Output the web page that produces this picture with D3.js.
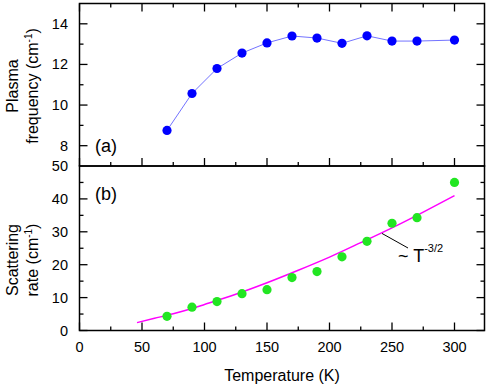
<!DOCTYPE html>
<html>
<head>
<meta charset="utf-8">
<script src="https://cdn.jsdelivr.net/npm/d3@7"></script>
<style>
  body { margin: 0; background: #fff; }
  svg { font-family: "Liberation Sans", Arial, sans-serif; }
</style>
</head>
<body>
<div id="chart"></div>
<script>
// Temperatures (K) of the measured points
var temps = [70, 90, 110, 130, 150, 170, 190, 210, 230, 250, 270, 300];
// (a) plasma frequency, cm^-1
var plasma = [8.75, 10.57, 11.8, 12.56, 13.06, 13.4, 13.3, 13.04, 13.41, 13.15, 13.15, 13.2];
// (b) scattering rate, cm^-1
var scatter = [4.3, 7.1, 8.8, 11.2, 12.4, 16.1, 17.9, 22.4, 27.1, 32.6, 34.3, 45.0];
// T^(3/2) guide curve
var fitT = [46, 60, 75, 90, 100, 125, 150, 175, 200, 225, 250, 275, 300];
var fitRate = [2.4, 3.7, 5.1, 6.7, 7.9, 11.0, 14.5, 18.3, 22.3, 26.7, 31.2, 36.0, 41.0];
// tick labels
var xTicks = [0, 50, 100, 150, 200, 250, 300];
var yTicksA = [8, 10, 12, 14];
var yTicksB = [0, 10, 20, 30, 40, 50];

var W = 491, H = 386;
var pL = 79.5, pR = 484.5, pT = 3.5, pM = 166, pB = 330.5;

var svg = d3.select("#chart").append("svg")
    .attr("width", W).attr("height", H);

var x = d3.scaleLinear().domain([0, 324]).range([pL, pR]);
var yA = d3.scaleLinear().domain([7, 15]).range([pM, pT]);
var yB = d3.scaleLinear().domain([0, 50]).range([pB, pM]);

var xMinor = d3.range(25, 325, 50);

function drawFrame(y0, y1) {
    svg.append("rect")
        .attr("x", pL).attr("y", y0)
        .attr("width", pR - pL).attr("height", y1 - y0)
        .attr("fill", "none").attr("stroke", "#000").attr("stroke-width", 1.5);
}

// inward tick marks on all four sides of a panel
function drawTicks(y, majors, minors, topTicks, bottomTicks) {
    var g = svg.append("g").attr("stroke", "#000").attr("stroke-width", 1.3);
    majors.forEach(function(v) {
        g.append("line").attr("x1", pL).attr("x2", pL + 8).attr("y1", y(v)).attr("y2", y(v));
        g.append("line").attr("x1", pR).attr("x2", pR - 8).attr("y1", y(v)).attr("y2", y(v));
    });
    minors.forEach(function(v) {
        g.append("line").attr("x1", pL).attr("x2", pL + 4).attr("y1", y(v)).attr("y2", y(v));
        g.append("line").attr("x1", pR).attr("x2", pR - 4).attr("y1", y(v)).attr("y2", y(v));
    });
    var r = y.range();
    [[topTicks, r[1], 1], [bottomTicks, r[0], -1]].forEach(function(s) {
        if (!s[0]) return;
        xTicks.forEach(function(v) {
            g.append("line").attr("x1", x(v)).attr("x2", x(v)).attr("y1", s[1]).attr("y2", s[1] + 8 * s[2]);
        });
        xMinor.forEach(function(v) {
            g.append("line").attr("x1", x(v)).attr("x2", x(v)).attr("y1", s[1]).attr("y2", s[1] + 4 * s[2]);
        });
    });
}

drawFrame(pT, pM);
drawFrame(pM, pB);
drawTicks(yA, yTicksA, [9, 11, 13], true, true);
drawTicks(yB, yTicksB.slice(0, 5), [5, 15, 25, 35, 45], false, true);

// tick labels
svg.append("g").selectAll("text").data(yTicksA).enter().append("text")
    .attr("x", 68).attr("y", d => yA(d) + 5)
    .attr("text-anchor", "end").attr("font-size", 14.5).text(d => d);
svg.append("g").selectAll("text").data(yTicksB).enter().append("text")
    .attr("x", 68).attr("y", d => yB(d) + 5)
    .attr("text-anchor", "end").attr("font-size", 14.5).text(d => d);
svg.append("g").selectAll("text").data(xTicks).enter().append("text")
    .attr("x", d => x(d)).attr("y", 352)
    .attr("text-anchor", "middle").attr("font-size", 14.5).text(d => d);

// axis titles
svg.append("text").attr("x", (pL + pR) / 2).attr("y", 381)
    .attr("text-anchor", "middle").attr("font-size", 16).text("Temperature (K)");

function yTitle(line1, line2, cy) {
    var g = svg.append("g").attr("font-size", 16).attr("text-anchor", "middle");
    g.append("text").attr("transform", "translate(18," + cy + ") rotate(-90)").text(line1);
    var t = g.append("text").attr("transform", "translate(38," + cy + ") rotate(-90)");
    t.append("tspan").text(line2 + " (cm");
    t.append("tspan").attr("font-size", 10).attr("dy", -6).text("-1");
    t.append("tspan").attr("dy", 6).text(")");
}
yTitle("Plasma", "frequency", 86);
yTitle("Scattering", "rate", 260);

// panel tags
svg.append("text").attr("x", 95).attr("y", 152).attr("font-size", 18).text("(a)");
svg.append("text").attr("x", 95).attr("y", 200).attr("font-size", 18).text("(b)");

// (a) plasma frequency
var ptsA = temps.map((t, i) => [t, plasma[i]]);
svg.append("path").datum(ptsA)
    .attr("d", d3.line().x(d => x(d[0])).y(d => yA(d[1])))
    .attr("fill", "none").attr("stroke", "#7373ff").attr("stroke-width", 1);
svg.append("g").selectAll("circle").data(ptsA).enter().append("circle")
    .attr("cx", d => x(d[0])).attr("cy", d => yA(d[1])).attr("r", 4.6)
    .attr("fill", "#0000ff");

// (b) scattering rate
var fit = fitT.map((t, i) => [t, fitRate[i]]);
svg.append("path").datum(fit)
    .attr("d", d3.line().curve(d3.curveMonotoneX).x(d => x(d[0])).y(d => yB(d[1])))
    .attr("fill", "none").attr("stroke", "#ff00ff").attr("stroke-width", 1.5);
svg.append("g").selectAll("circle").data(temps.map((t, i) => [t, scatter[i]])).enter().append("circle")
    .attr("cx", d => x(d[0])).attr("cy", d => yB(d[1])).attr("r", 4.6)
    .attr("fill", "#22e622");

// T^-3/2 annotation
svg.append("line").attr("x1", x(242)).attr("y1", yB(29.5)).attr("x2", 408).attr("y2", 248)
    .attr("stroke", "#000").attr("stroke-width", 1);
var ann = svg.append("text").attr("x", 398).attr("y", 262).attr("font-size", 18);
ann.append("tspan").text("~ T");
ann.append("tspan").attr("font-size", 11).attr("dy", -10).text("-3/2");
</script>
</body>
</html>
